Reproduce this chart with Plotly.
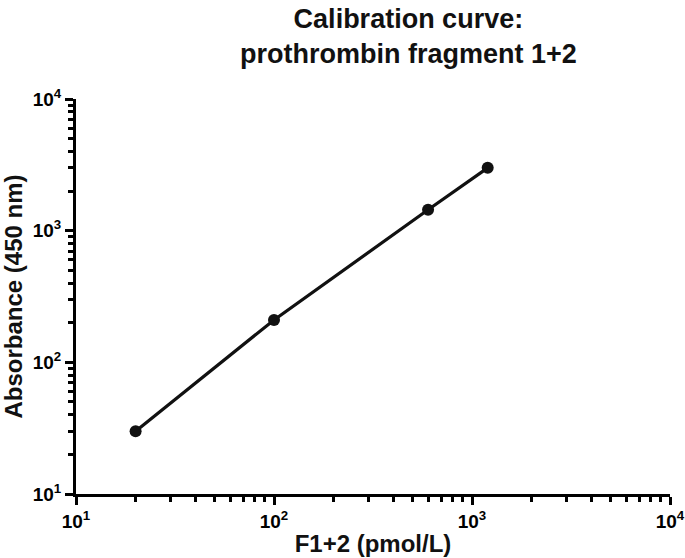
import plotly.graph_objects as go

# Data
f12_pmol = [20, 100, 600, 1200]
absorbance = [30, 210, 1440, 3000]

tick_vals = [10, 100, 1000, 10000]
tick_text = ["10<sup>1</sup>", "10<sup>2</sup>", "10<sup>3</sup>", "10<sup>4</sup>"]

title_text = "Calibration curve:<br>prothrombin fragment 1+2"
x_title = "F1+2 (pmol/L)"
y_title = "Absorbance (450 nm)"

FONT = "Liberation Sans, Arial, Helvetica, sans-serif"
INK = "#111111"

fig = go.Figure()
fig.add_trace(go.Scatter(
    x=f12_pmol, y=absorbance, mode="lines+markers",
    line=dict(color=INK, width=3.2),
    marker=dict(color=INK, size=12),
    showlegend=False,
))

axis_common = dict(
    type="log", range=[1, 4], automargin=False,
    tickvals=tick_vals, ticktext=tick_text,
    ticks="outside", ticklen=8, tickwidth=3, tickcolor="black",
    showline=True, linewidth=3, linecolor="black",
    showgrid=False, zeroline=False,
    tickfont=dict(family=FONT, size=19, color="black", weight="bold"),
    minor=dict(ticks="outside", ticklen=5, tickwidth=2.5, tickcolor="black", dtick="D1", showgrid=False),
)

fig.update_xaxes(**axis_common,
                 title=dict(text=x_title, font=dict(family=FONT, size=24, color=INK, weight="bold"), standoff=5))
fig.update_yaxes(**axis_common,
                 title=dict(text=y_title, font=dict(family=FONT, size=24, color=INK, weight="bold"), standoff=8))

fig.add_annotation(
    text=title_text, showarrow=False,
    xref="paper", yref="paper", x=0.56, y=1.245, xanchor="center", yanchor="top",
    font=dict(family=FONT, size=27, color=INK, weight="bold"),
)

fig.update_layout(
    width=685, height=558,
    margin=dict(l=76, r=15, t=99, b=64),
    plot_bgcolor="white", paper_bgcolor="white",
    font=dict(family=FONT, color=INK),
)

fig.write_html("out.html")
